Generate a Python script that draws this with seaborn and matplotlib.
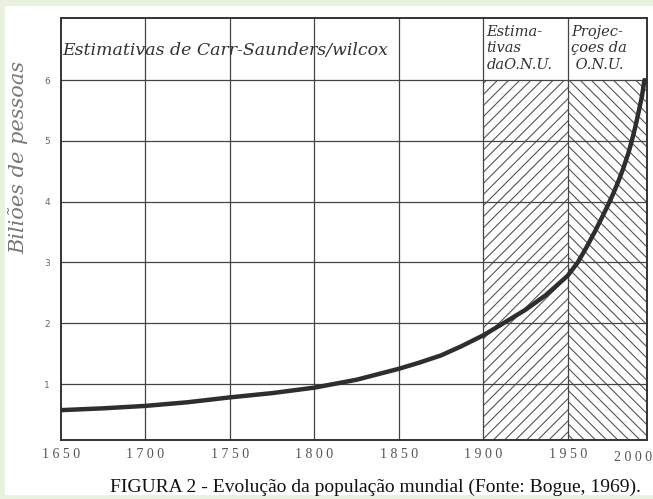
import matplotlib
matplotlib.use("Agg")
import matplotlib.pyplot as plt
import seaborn as sns
from matplotlib.patches import Rectangle

# world population (billions)
years = [1650, 1675, 1700, 1725, 1750, 1775, 1800, 1825, 1850, 1862, 1875,
         1887, 1900, 1912, 1925, 1937, 1950, 1956, 1961, 1966, 1970, 1974,
         1977, 1980, 1983, 1986, 1988, 1990, 1992, 1994, 1995.5]
values = [0.57, 0.60, 0.64, 0.70, 0.78, 0.85, 0.94, 1.07, 1.25, 1.35, 1.47,
          1.62, 1.80, 2.0, 2.22, 2.46, 2.78, 3.0, 3.24, 3.5, 3.72, 3.95,
          4.13, 4.33, 4.55, 4.8, 5.0, 5.22, 5.47, 5.73, 6.0]

x_ticks = [1650, 1700, 1750, 1800, 1850, 1900, 1950]
y_ticks = [1, 2, 3, 4, 5, 6]

header_left = "Estimativas de Carr-Saunders/wilcox"
header_onu = "Estima-\ntivas\ndaO.N.U."
header_proj = "Projec-\nçoes da\n O.N.U."
y_label = "Biliões de pessoas"
caption = "FIGURA 2 - Evolução da população mundial (Fonte: Bogue, 1969)."

sns.set_style("white")
plt.rcParams["hatch.linewidth"] = 0.8

W, H = 653, 499
fig = plt.figure(figsize=(W / 100, H / 100), dpi=100)
fig.patch.set_facecolor("#e9f1e1")
fig.add_artist(Rectangle((5 / W, 4 / H), 1, 1 - 10 / H, transform=fig.transFigure,
                         facecolor="white", edgecolor="none", zorder=0))

ax = fig.add_axes([61 / W, 1 - 440 / H, (647 - 61) / W, (440 - 18) / H])
ymin, ymax = 0.079, 7.02
ax.set_xlim(1650, 1997)
ax.set_ylim(ymin, ymax)

# hatched UN columns
ax.fill_between([1900, 1950], ymin, 6, facecolor="none", edgecolor="#555555",
                hatch="///", linewidth=0, zorder=1)
ax.fill_between([1950, 1997], ymin, 6, facecolor="none", edgecolor="#555555",
                hatch="\\\\\\", linewidth=0, zorder=1)

# grid
for yr in x_ticks[1:]:
    ax.axvline(yr, color="#444444", lw=0.9, zorder=2)
for v in y_ticks:
    ax.axhline(v, color="#444444", lw=0.9, zorder=2)

sns.lineplot(x=years, y=values, ax=ax, color="#2e2e2e", linewidth=3.2, zorder=3)

for s in ax.spines.values():
    s.set_color("#333333")
    s.set_linewidth(1.4)

tick_font = dict(fontfamily="Liberation Serif", fontsize=10, color="#555555")
ax.set_xticks(x_ticks)
ax.set_xticklabels([" ".join(str(t)) for t in x_ticks], **tick_font)
ax.text(1989, -0.027, " ".join("2000"), transform=ax.get_xaxis_transform(),
        ha="center", va="top", **tick_font)
ax.set_yticks(y_ticks)
ax.set_yticklabels([str(t) for t in y_ticks], fontsize=6.5, color="#666666")
ax.tick_params(axis="both", length=0)
ax.tick_params(axis="x", pad=6)
ax.tick_params(axis="y", pad=8)

ax.set_ylabel(y_label, fontfamily="DejaVu Serif", style="italic", fontsize=15,
              color="#777777")
ax.yaxis.set_label_coords(-0.056, 0.67)

ax.text(1651, 6.49, header_left, fontfamily="DejaVu Serif", style="italic",
        fontsize=12.5, color="#333333", va="center", ha="left")
ax.text(1902, 6.52, header_onu, fontfamily="DejaVu Serif", style="italic",
        fontsize=10.5, color="#333333", va="center", ha="left", linespacing=1.2)
ax.text(1952, 6.52, header_proj, fontfamily="DejaVu Serif", style="italic",
        fontsize=10.5, color="#333333", va="center", ha="left", linespacing=1.2)

fig.text(375 / W, 1 - 487 / H, caption, fontfamily="Liberation Serif",
         fontsize=14, color="#111111", ha="center", va="center")

fig.savefig("out.png", dpi=100, facecolor=fig.get_facecolor())
